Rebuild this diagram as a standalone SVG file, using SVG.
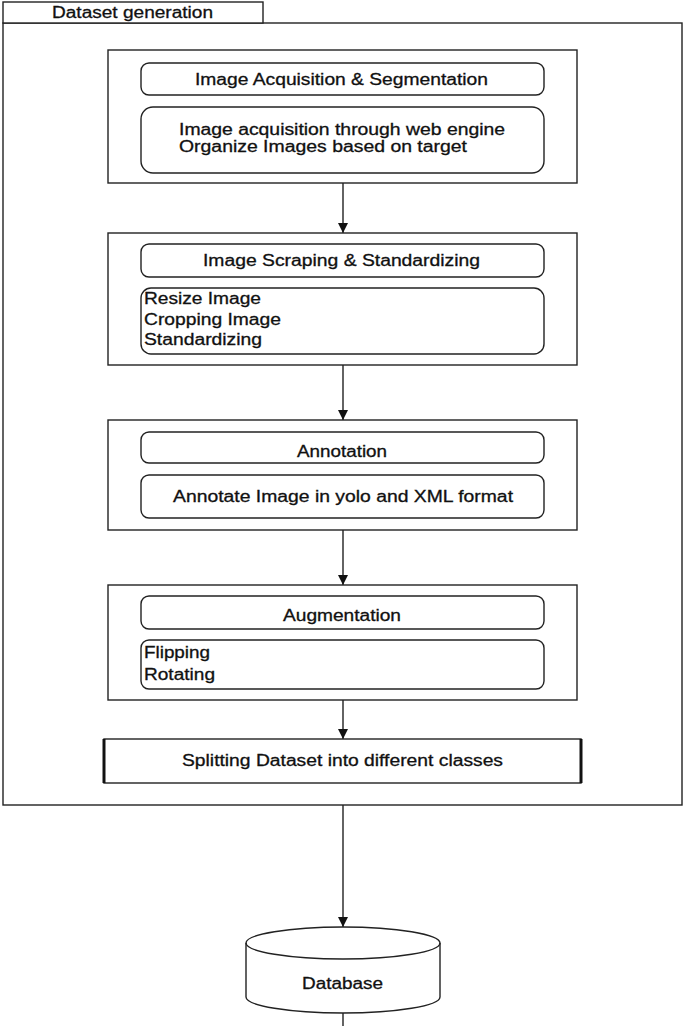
<svg xmlns="http://www.w3.org/2000/svg" width="685" height="1026" viewBox="0 0 685 1026">
<defs>
<style>
.ln{fill:none;stroke:#222;stroke-width:1.4}
.bx{fill:#fff;stroke:#222;stroke-width:1.4}
.t{font-family:"Liberation Sans",Arial,sans-serif;font-size:16px;fill:#111;stroke:#111;stroke-width:0.3}
.c{text-anchor:middle}
</style>
<marker id="ah" viewBox="0 0 10 10" refX="10" refY="5" markerWidth="10" markerHeight="10" markerUnits="userSpaceOnUse" orient="auto">
<path d="M0,0 L10,5 L0,10 z" fill="#111"/>
</marker>
</defs>
<rect width="685" height="1026" fill="#fff"/>
<g id="frame">
<rect class="bx" x="3" y="23" width="679" height="782"/>
<rect class="bx" x="3" y="2" width="260" height="21"/>
<text class="t" x="52" y="18" textLength="161" lengthAdjust="spacingAndGlyphs">Dataset generation</text>
</g>
<g id="connectors">
<line class="ln" x1="343" y1="183" x2="343" y2="233" marker-end="url(#ah)"/>
<line class="ln" x1="343" y1="365" x2="343" y2="420" marker-end="url(#ah)"/>
<line class="ln" x1="343" y1="530" x2="343" y2="585" marker-end="url(#ah)"/>
<line class="ln" x1="343" y1="700" x2="343" y2="739" marker-end="url(#ah)"/>
<line class="ln" x1="343" y1="805" x2="343" y2="927" marker-end="url(#ah)"/>
<line class="ln" x1="343" y1="1013" x2="343" y2="1026"/>
</g>
<g id="acquisition">
<rect class="bx" x="108" y="50" width="469" height="133"/>
<rect class="bx" x="141" y="63" width="403" height="32" rx="8"/>
<text class="t" x="195" y="85" textLength="293" lengthAdjust="spacingAndGlyphs">Image Acquisition &amp; Segmentation</text>
<rect class="bx" x="141" y="107" width="403" height="66" rx="12"/>
<text class="t" x="179" y="135" textLength="326" lengthAdjust="spacingAndGlyphs">Image acquisition through web engine</text>
<text class="t" x="179" y="152" textLength="288" lengthAdjust="spacingAndGlyphs">Organize Images based on target</text>
</g>
<g id="scraping">
<rect class="bx" x="108" y="233" width="469" height="132"/>
<rect class="bx" x="141" y="244" width="403" height="33" rx="8"/>
<text class="t" x="203" y="266" textLength="277" lengthAdjust="spacingAndGlyphs">Image Scraping &amp; Standardizing</text>
<rect class="bx" x="141" y="288" width="403" height="66" rx="10"/>
<text class="t" x="144" y="304" textLength="117" lengthAdjust="spacingAndGlyphs">Resize Image</text>
<text class="t" x="144" y="325" textLength="137" lengthAdjust="spacingAndGlyphs">Cropping Image</text>
<text class="t" x="144" y="345" textLength="118" lengthAdjust="spacingAndGlyphs">Standardizing</text>
</g>
<g id="annotation">
<rect class="bx" x="108" y="420" width="469" height="110"/>
<rect class="bx" x="141" y="432" width="403" height="31" rx="8"/>
<text class="t" x="297" y="457" textLength="90" lengthAdjust="spacingAndGlyphs">Annotation</text>
<rect class="bx" x="141" y="475" width="403" height="43" rx="8"/>
<text class="t" x="173" y="502" textLength="340" lengthAdjust="spacingAndGlyphs">Annotate Image in yolo and XML format</text>
</g>
<g id="augmentation">
<rect class="bx" x="108" y="585" width="469" height="115"/>
<rect class="bx" x="141" y="596" width="403" height="33" rx="8"/>
<text class="t" x="283" y="621" textLength="118" lengthAdjust="spacingAndGlyphs">Augmentation</text>
<rect class="bx" x="141" y="640" width="403" height="49" rx="8"/>
<text class="t" x="144" y="658" textLength="66" lengthAdjust="spacingAndGlyphs">Flipping</text>
<text class="t" x="144" y="680" textLength="71" lengthAdjust="spacingAndGlyphs">Rotating</text>
</g>
<g id="splitting">
<rect class="bx" x="104" y="739" width="477" height="44"/>
<line x1="104" y1="739" x2="104" y2="783" stroke="#111" stroke-width="3"/>
<line x1="581" y1="739" x2="581" y2="783" stroke="#111" stroke-width="3"/>
<text class="t" x="182" y="766" textLength="321" lengthAdjust="spacingAndGlyphs">Splitting Dataset into different classes</text>
</g>
<g id="database">
<path class="bx" d="M246,943 L246,997 A97,16 0 0 0 440,997 L440,943 A97,16 0 0 0 246,943 Z"/>
<path class="ln" d="M246,943 A97,16 0 0 0 440,943"/>
<text class="t" x="302" y="989" textLength="81" lengthAdjust="spacingAndGlyphs">Database</text>
</g>
</svg>
